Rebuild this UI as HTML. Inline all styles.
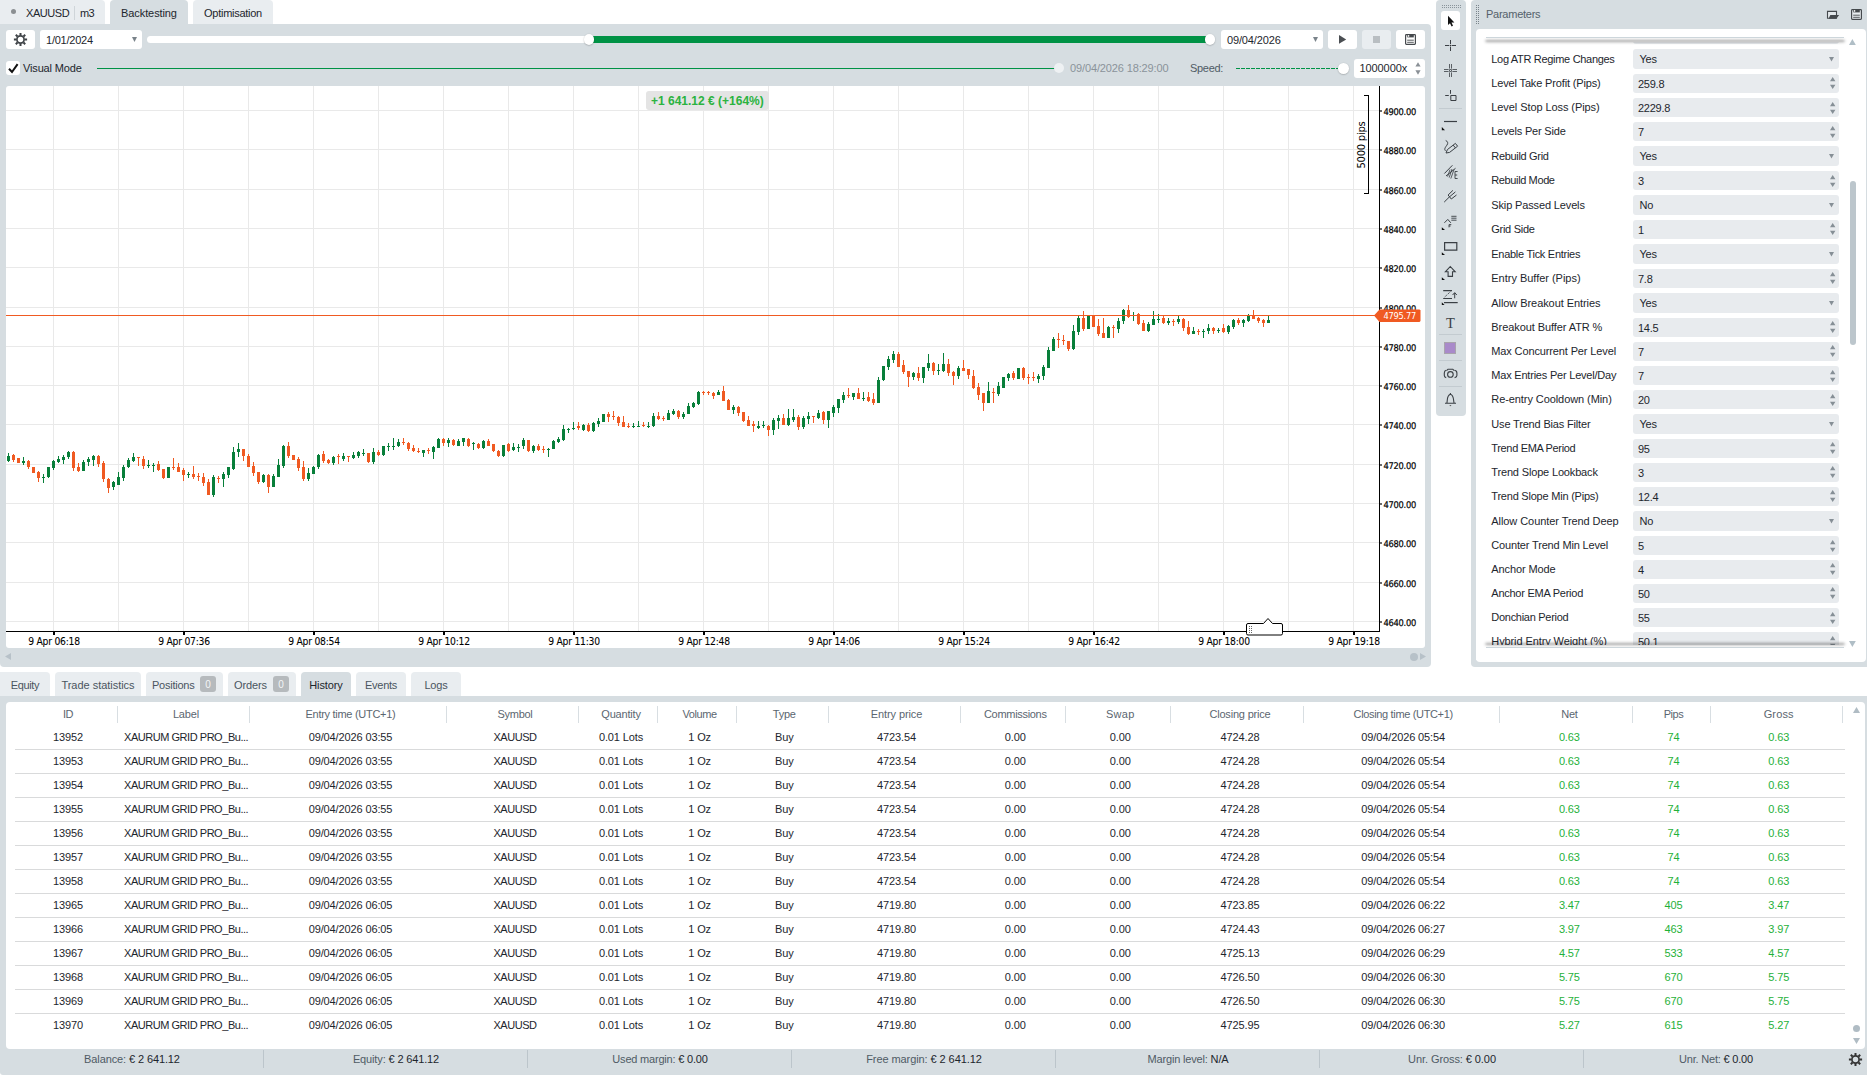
<!DOCTYPE html>
<html lang="en"><head><meta charset="utf-8"><title>Backtesting</title>
<style>
*{box-sizing:border-box;margin:0;padding:0}
html,body{width:1867px;height:1075px;overflow:hidden;background:#fff}
body{position:relative;font-family:"Liberation Sans",Arial,sans-serif;font-size:11px;letter-spacing:-.25px;color:#1d262d;line-height:14px}
.a{position:absolute}
.t{position:absolute;white-space:nowrap;line-height:14px;height:14px}
.pn{background:#d6dde1}
.tab{position:absolute;background:#e9edf0;border-radius:4px 4px 0 0;color:#3f4a54;text-align:center}
.tab.on{background:#d6dde1;color:#1d262d}
.w{position:absolute;background:#fff;border-radius:3px}
.chart{position:absolute;left:6px;top:86px}
.th{position:absolute;border-radius:50%;background:#fff;box-shadow:0 .5px 1.5px rgba(0,0,0,.3)}
.in{position:absolute;background:#e8ebee;border-radius:3px;left:1633px;width:206px;height:19px}
.lb{position:absolute;left:1491px;white-space:nowrap;line-height:14px;height:14px;color:#1d262d}
.vl{position:absolute;left:1639px;white-space:nowrap;line-height:14px;height:14px;color:#1d262d}
.sep{position:absolute;background:#d8dee2;width:1px}
.hd{position:absolute;color:#5b6670;text-align:center;white-space:nowrap;line-height:14px;height:14px}
.c{position:absolute;text-align:center;white-space:nowrap;line-height:14px;height:14px;color:#1d262d;letter-spacing:-.12px}
.cap{letter-spacing:-.45px}
.gr{color:#1fb13a}
.rl{position:absolute;left:15px;width:1830px;height:1px;background:#d9dadb}
.st{position:absolute;top:1052px;width:264px;text-align:center;white-space:nowrap;line-height:14px;height:14px;color:#4f5b65}
.st b{font-weight:normal;color:#1d262d}
.ic{position:absolute;overflow:visible}
</style></head>
<body>
<div class="tab" style="left:0;top:0;width:105px;height:24px;border-radius:0 4px 0 0"></div>
<div class="a" style="left:11px;top:9px;width:5px;height:5px;border-radius:50%;background:#8b8f92"></div>
<div class="t" style="left:26px;top:6px;letter-spacing:-0.44px">XAUUSD</div>
<div class="a" style="left:74px;top:6px;width:1px;height:14px;background:#cfd5d9"></div>
<div class="t" style="left:80px;top:6px;letter-spacing:-0.60px">m3</div>
<div class="tab on" style="left:110px;top:0;width:78px;height:25px;padding-top:6px;letter-spacing:-0.10px">Backtesting</div>
<div class="tab" style="left:193px;top:0;width:80px;height:24px;padding-top:6px;color:#1d262d;letter-spacing:-0.27px">Optimisation</div>
<div class="a pn" style="left:0;top:24px;width:1431px;height:643px;border-radius:0 4px 4px 4px"></div>
<div class="w" style="left:6px;top:30px;width:29px;height:19px"></div>
<svg class="ic" style="left:13px;top:32px" width="15" height="15" viewBox="-7.5 -7.5 15 15"><g fill="none" stroke="#3f4347" stroke-width="1.7"><circle r="3.6"/><path d="M0-4.2V-6.6M0 4.2V6.6M-4.2 0H-6.6M4.2 0H6.6M-3-3L-4.7-4.7M3 3L4.7 4.7M-3 3L-4.7 4.7M3-3L4.7-4.7" stroke-width="2"/></g></svg>
<div class="w" style="left:40px;top:30px;width:102px;height:19px"></div>
<div class="t" style="left:46px;top:33px;letter-spacing:-0.23px">1/01/2024</div>
<svg class="ic" style="left:132px;top:37px" width="5" height="5"><path d="M0 0H5L2.5 5z" fill="#7a838a"/></svg>
<div class="a" style="left:147px;top:36px;width:1068px;height:7px;background:#fff;border-radius:4px"></div>
<div class="a" style="left:589px;top:36px;width:622px;height:7px;background:#009245"></div>
<div class="th" style="left:583.6px;top:34.4px;width:10.4px;height:10.4px"></div>
<div class="th" style="left:1205px;top:34.4px;width:10.4px;height:10.4px"></div>
<div class="w" style="left:1221px;top:30px;width:102px;height:19px"></div>
<div class="t" style="left:1227px;top:33px;letter-spacing:-0.14px">09/04/2026</div>
<svg class="ic" style="left:1313px;top:37px" width="5" height="5"><path d="M0 0H5L2.5 5z" fill="#7a838a"/></svg>
<div class="w" style="left:1328px;top:30px;width:29px;height:19px"></div>
<svg class="ic" style="left:1339px;top:35px" width="8" height="9"><path d="M0 0L7.2 4.4L0 8.8z" fill="#4a4e52"/></svg>
<div class="w" style="left:1362px;top:30px;width:29px;height:19px;background:#e9edf0"></div>
<div class="a" style="left:1373px;top:36px;width:7px;height:7px;background:#b9bec2"></div>
<div class="w" style="left:1396px;top:30px;width:29px;height:19px"></div>
<svg class="ic" style="left:1405px;top:34px" width="11" height="11" viewBox="0 0 11 11"><path d="M1.4 .6H9.6Q10.4 .6 10.4 1.4V9.6Q10.4 10.4 9.6 10.4H1.4Q.6 10.4 .6 9.6V1.4Q.6 .6 1.4 .6z" fill="#fff" stroke="#45494d" stroke-width="1.2"/><path d="M2.3 .6H8.8V3.4H2.3z" fill="#45494d"/><path d="M2.2 6.2H8.8M2.2 8.3H8.8" stroke="#45494d" stroke-width=".9"/><rect x="3.1" y="1" width="1.1" height="1.8" fill="#fff"/></svg>
<div class="w" style="left:6px;top:61px;width:14px;height:14px"></div>
<svg class="ic" style="left:8px;top:63px" width="11" height="11" viewBox="0 0 11 11"><path d="M1 5.8L4 9L9.6 1.2" fill="none" stroke="#111" stroke-width="2"/></svg>
<div class="t" style="left:23px;top:61px;letter-spacing:-0.15px">Visual Mode</div>
<div class="a" style="left:97px;top:67.75px;width:962px;height:1.5px;background:#009245"></div>
<div class="th" style="left:1054px;top:63px;width:10px;height:10px;background:#eef1f3;box-shadow:none"></div>
<div class="t" style="left:1070px;top:61px;color:#8a939a;letter-spacing:-0.13px">09/04/2026 18:29:00</div>
<div class="t" style="left:1190px;top:61px;color:#4f5b65;letter-spacing:-0.31px">Speed:</div>
<div class="a" style="left:1235px;top:67.8px;width:104px;height:1.4px;background:repeating-linear-gradient(90deg,transparent 0 1.3px,#009245 1.3px 5px)"></div>
<div class="th" style="left:1338px;top:63.2px;width:10.6px;height:10.6px"></div>
<div class="w" style="left:1354px;top:59px;width:71px;height:19px"></div>
<div class="t" style="left:1359.5px;top:61px;letter-spacing:-0.09px">1000000x</div>
<svg class="ic" style="left:1415px;top:62px" width="6" height="13"><path d="M.4 4.5H5.6L3 .3zM.4 8.3H5.6L3 12.8z" fill="#8a9096"/></svg>
<div class="w" style="left:6px;top:86px;width:1419px;height:562px;border-radius:3px"></div>
<svg class="chart" width="1419" height="562" viewBox="6 86 1419 562" shape-rendering="crispEdges">
<path d="M53.5 86V631 M118.5 86V631 M183.5 86V631 M248.5 86V631 M313.5 86V631 M378.5 86V631 M443.5 86V631 M508.5 86V631 M573.5 86V631 M638.5 86V631 M703.5 86V631 M768.5 86V631 M833.5 86V631 M898.5 86V631 M963.5 86V631 M1028.5 86V631 M1093.5 86V631 M1158.5 86V631 M1223.5 86V631 M1288.5 86V631 M1353.5 86V631 M6 110.5H1379 M6 149.5H1379 M6 189.5H1379 M6 228.5H1379 M6 267.5H1379 M6 307.5H1379 M6 346.5H1379 M6 385.5H1379 M6 424.5H1379 M6 464.5H1379 M6 503.5H1379 M6 542.5H1379 M6 582.5H1379 M6 621.5H1379" stroke="#e9e9e9" stroke-width="1" fill="none"/>
<path d="M7 456h3V461h-3zM22 461h3V463h-3zM42 477h3V478h-3zM47 467h3V477h-3zM52 461h3V468h-3zM57 459h3V462h-3zM62 457h3V460h-3zM67 452h3V457h-3zM82 462h3V471h-3zM87 459h3V462h-3zM92 456h3V460h-3zM112 482h3V487h-3zM117 477h3V485h-3zM122 467h3V478h-3zM127 460h3V467h-3zM132 457h3V461h-3zM147 465h3V466h-3zM152 465h3V466h-3zM167 467h3V478h-3zM187 474h3V475h-3zM212 477h3V495h-3zM222 474h3V479h-3zM227 467h3V475h-3zM232 452h3V469h-3zM237 449h3V452h-3zM262 475h3V482h-3zM272 476h3V487h-3zM277 465h3V477h-3zM282 446h3V466h-3zM307 473h3V479h-3zM312 467h3V474h-3zM317 455h3V467h-3zM332 457h3V463h-3zM342 456h3V459h-3zM352 455h3V458h-3zM357 452h3V456h-3zM362 453h3V454h-3zM372 452h3V462h-3zM382 446h3V455h-3zM387 446h3V447h-3zM392 446h3V447h-3zM397 442h3V446h-3zM422 450h3V453h-3zM432 447h3V452h-3zM437 439h3V448h-3zM447 440h3V443h-3zM457 441h3V446h-3zM462 438h3V442h-3zM472 443h3V444h-3zM482 441h3V448h-3zM502 445h3V456h-3zM512 447h3V450h-3zM517 447h3V448h-3zM522 440h3V446h-3zM532 446h3V451h-3zM547 449h3V450h-3zM552 441h3V449h-3zM557 439h3V442h-3zM562 429h3V440h-3zM567 429h3V430h-3zM572 428h3V429h-3zM582 425h3V430h-3zM592 423h3V431h-3zM597 421h3V424h-3zM602 414h3V422h-3zM632 426h3V427h-3zM637 426h3V427h-3zM647 426h3V427h-3zM652 416h3V426h-3zM667 413h3V420h-3zM672 411h3V414h-3zM682 414h3V417h-3zM687 406h3V414h-3zM692 403h3V407h-3zM697 392h3V404h-3zM717 392h3V395h-3zM732 407h3V410h-3zM757 426h3V428h-3zM762 425h3V426h-3zM772 420h3V430h-3zM777 418h3V421h-3zM787 418h3V425h-3zM792 417h3V420h-3zM802 418h3V427h-3zM807 416h3V419h-3zM817 413h3V418h-3zM827 411h3V420h-3zM832 407h3V413h-3zM837 399h3V408h-3zM842 395h3V400h-3zM852 393h3V397h-3zM862 398h3V399h-3zM877 380h3V403h-3zM882 366h3V380h-3zM887 359h3V367h-3zM892 354h3V360h-3zM912 373h3V377h-3zM922 367h3V378h-3zM927 363h3V368h-3zM937 370h3V371h-3zM942 364h3V371h-3zM957 368h3V376h-3zM987 391h3V403h-3zM997 386h3V394h-3zM1002 377h3V388h-3zM1007 374h3V378h-3zM1017 368h3V379h-3zM1037 376h3V379h-3zM1042 367h3V376h-3zM1047 350h3V368h-3zM1052 339h3V351h-3zM1072 331h3V349h-3zM1077 318h3V332h-3zM1087 316h3V329h-3zM1107 327h3V338h-3zM1117 321h3V329h-3zM1122 310h3V321h-3zM1132 315h3V316h-3zM1147 324h3V331h-3zM1152 319h3V325h-3zM1157 319h3V320h-3zM1167 321h3V323h-3zM1177 319h3V322h-3zM1192 331h3V334h-3zM1202 331h3V332h-3zM1207 328h3V331h-3zM1217 330h3V331h-3zM1227 326h3V332h-3zM1232 320h3V327h-3zM1242 320h3V323h-3zM1247 315h3V321h-3zM1267 320h3V323h-3zM8 453h1V462h-1zM23 457h1V465h-1zM43 474h1V483h-1zM48 467h1V478h-1zM53 460h1V470h-1zM58 456h1V463h-1zM63 455h1V464h-1zM68 451h1V459h-1zM83 460h1V471h-1zM88 457h1V466h-1zM93 455h1V466h-1zM113 481h1V490h-1zM118 472h1V485h-1zM123 465h1V481h-1zM128 458h1V468h-1zM133 453h1V462h-1zM148 460h1V468h-1zM153 463h1V472h-1zM168 467h1V478h-1zM188 472h1V478h-1zM213 475h1V497h-1zM223 472h1V487h-1zM228 467h1V478h-1zM233 447h1V470h-1zM238 443h1V457h-1zM263 474h1V483h-1zM273 474h1V487h-1zM278 459h1V477h-1zM283 445h1V468h-1zM308 468h1V481h-1zM313 466h1V474h-1zM318 454h1V469h-1zM333 456h1V465h-1zM343 453h1V461h-1zM353 452h1V459h-1zM358 451h1V458h-1zM363 449h1V456h-1zM373 448h1V464h-1zM383 446h1V456h-1zM388 443h1V451h-1zM393 438h1V450h-1zM398 439h1V447h-1zM423 450h1V457h-1zM433 446h1V459h-1zM438 438h1V448h-1zM448 438h1V447h-1zM458 439h1V446h-1zM463 438h1V446h-1zM473 442h1V450h-1zM483 440h1V449h-1zM503 445h1V457h-1zM513 443h1V451h-1zM518 444h1V452h-1zM523 438h1V449h-1zM533 445h1V453h-1zM548 448h1V457h-1zM553 440h1V449h-1zM558 437h1V443h-1zM563 425h1V441h-1zM568 428h1V433h-1zM573 422h1V430h-1zM583 424h1V431h-1zM593 422h1V432h-1zM598 418h1V427h-1zM603 414h1V422h-1zM633 423h1V428h-1zM638 421h1V427h-1zM648 422h1V428h-1zM653 413h1V427h-1zM668 410h1V420h-1zM673 409h1V415h-1zM683 412h1V419h-1zM688 403h1V414h-1zM693 402h1V408h-1zM698 391h1V405h-1zM718 390h1V395h-1zM733 405h1V414h-1zM758 421h1V429h-1zM763 421h1V428h-1zM773 418h1V435h-1zM778 415h1V429h-1zM788 409h1V426h-1zM793 409h1V422h-1zM803 416h1V429h-1zM808 412h1V424h-1zM818 410h1V419h-1zM828 411h1V428h-1zM833 405h1V417h-1zM838 399h1V413h-1zM843 392h1V403h-1zM853 393h1V400h-1zM863 392h1V401h-1zM878 377h1V403h-1zM883 366h1V381h-1zM888 356h1V370h-1zM893 351h1V363h-1zM913 372h1V380h-1zM923 367h1V383h-1zM928 354h1V371h-1zM938 364h1V375h-1zM943 353h1V372h-1zM958 366h1V379h-1zM988 382h1V403h-1zM998 382h1V396h-1zM1003 377h1V388h-1zM1008 373h1V381h-1zM1018 368h1V379h-1zM1038 374h1V383h-1zM1043 365h1V380h-1zM1048 347h1V368h-1zM1053 337h1V351h-1zM1073 325h1V350h-1zM1078 316h1V335h-1zM1088 316h1V329h-1zM1108 326h1V338h-1zM1118 318h1V333h-1zM1123 309h1V324h-1zM1133 312h1V321h-1zM1148 322h1V332h-1zM1153 311h1V325h-1zM1158 314h1V323h-1zM1168 318h1V325h-1zM1178 316h1V324h-1zM1193 327h1V334h-1zM1203 329h1V338h-1zM1208 324h1V334h-1zM1218 328h1V333h-1zM1228 325h1V334h-1zM1233 319h1V329h-1zM1243 319h1V327h-1zM1248 314h1V322h-1zM1268 315h1V323h-1z" fill="#087f3a"/>
<path d="M12 455h3V460h-3zM17 458h3V463h-3zM27 461h3V467h-3zM32 467h3V473h-3zM37 472h3V478h-3zM72 452h3V468h-3zM77 467h3V471h-3zM97 456h3V464h-3zM102 463h3V479h-3zM107 479h3V488h-3zM137 457h3V458h-3zM142 459h3V466h-3zM157 464h3V470h-3zM162 469h3V478h-3zM172 467h3V468h-3zM177 467h3V472h-3zM182 470h3V475h-3zM192 474h3V477h-3zM197 476h3V477h-3zM202 477h3V483h-3zM207 482h3V495h-3zM217 478h3V479h-3zM242 449h3V456h-3zM247 456h3V467h-3zM252 466h3V473h-3zM257 472h3V482h-3zM267 475h3V487h-3zM287 446h3V456h-3zM292 455h3V460h-3zM297 459h3V468h-3zM302 467h3V479h-3zM322 454h3V461h-3zM327 460h3V463h-3zM337 456h3V457h-3zM347 456h3V457h-3zM367 453h3V462h-3zM377 452h3V455h-3zM402 442h3V443h-3zM407 443h3V449h-3zM412 448h3V451h-3zM417 451h3V452h-3zM427 450h3V451h-3zM442 439h3V443h-3zM452 440h3V445h-3zM467 439h3V446h-3zM477 444h3V448h-3zM487 441h3V446h-3zM492 444h3V451h-3zM497 451h3V456h-3zM507 444h3V451h-3zM527 440h3V451h-3zM537 446h3V450h-3zM542 449h3V450h-3zM577 426h3V428h-3zM587 425h3V431h-3zM607 414h3V417h-3zM612 416h3V417h-3zM617 417h3V423h-3zM622 422h3V427h-3zM627 426h3V427h-3zM642 425h3V426h-3zM657 416h3V419h-3zM662 418h3V419h-3zM677 411h3V417h-3zM702 392h3V393h-3zM707 392h3V393h-3zM712 393h3V396h-3zM722 391h3V401h-3zM727 400h3V410h-3zM737 407h3V413h-3zM742 412h3V421h-3zM747 420h3V426h-3zM752 424h3V426h-3zM767 426h3V430h-3zM782 418h3V425h-3zM797 417h3V427h-3zM812 416h3V417h-3zM822 412h3V420h-3zM847 395h3V396h-3zM857 393h3V399h-3zM867 397h3V401h-3zM872 399h3V403h-3zM897 354h3V367h-3zM902 365h3V372h-3zM907 371h3V377h-3zM917 373h3V378h-3zM932 363h3V371h-3zM947 364h3V373h-3zM952 372h3V376h-3zM962 368h3V371h-3zM967 369h3V375h-3zM972 376h3V388h-3zM977 387h3V395h-3zM982 393h3V403h-3zM992 392h3V393h-3zM1012 373h3V378h-3zM1022 368h3V378h-3zM1027 377h3V378h-3zM1032 377h3V378h-3zM1057 339h3V340h-3zM1062 340h3V341h-3zM1067 341h3V349h-3zM1082 318h3V329h-3zM1092 316h3V327h-3zM1097 326h3V334h-3zM1102 333h3V338h-3zM1112 327h3V328h-3zM1127 310h3V317h-3zM1137 314h3V324h-3zM1142 323h3V331h-3zM1162 318h3V323h-3zM1172 321h3V322h-3zM1182 319h3V328h-3zM1187 327h3V334h-3zM1197 331h3V332h-3zM1212 328h3V331h-3zM1222 328h3V332h-3zM1237 320h3V323h-3zM1252 315h3V319h-3zM1257 318h3V321h-3zM1262 320h3V323h-3zM13 454h1V462h-1zM18 458h1V463h-1zM28 460h1V469h-1zM33 467h1V473h-1zM38 471h1V482h-1zM73 451h1V471h-1zM78 463h1V472h-1zM98 455h1V467h-1zM103 461h1V482h-1zM108 478h1V493h-1zM138 457h1V466h-1zM143 456h1V469h-1zM158 461h1V471h-1zM163 469h1V479h-1zM173 458h1V470h-1zM178 463h1V472h-1zM183 468h1V481h-1zM193 466h1V479h-1zM198 473h1V481h-1zM203 473h1V486h-1zM208 479h1V495h-1zM218 476h1V483h-1zM243 449h1V461h-1zM248 454h1V467h-1zM253 462h1V476h-1zM258 472h1V484h-1zM268 474h1V493h-1zM288 442h1V458h-1zM293 455h1V460h-1zM298 457h1V471h-1zM303 461h1V481h-1zM323 451h1V463h-1zM328 459h1V464h-1zM338 454h1V464h-1zM348 456h1V462h-1zM368 453h1V463h-1zM378 450h1V456h-1zM403 438h1V445h-1zM408 442h1V451h-1zM413 445h1V452h-1zM418 448h1V453h-1zM428 448h1V454h-1zM443 438h1V446h-1zM453 439h1V446h-1zM468 438h1V447h-1zM478 443h1V449h-1zM488 439h1V446h-1zM493 444h1V452h-1zM498 450h1V457h-1zM508 443h1V452h-1zM528 440h1V452h-1zM538 444h1V451h-1zM543 446h1V453h-1zM578 422h1V430h-1zM588 423h1V432h-1zM608 412h1V422h-1zM613 411h1V420h-1zM618 416h1V426h-1zM623 416h1V427h-1zM628 423h1V428h-1zM643 422h1V427h-1zM658 412h1V420h-1zM663 416h1V421h-1zM678 410h1V419h-1zM703 391h1V395h-1zM708 391h1V395h-1zM713 392h1V399h-1zM723 386h1V401h-1zM728 399h1V410h-1zM738 406h1V416h-1zM743 412h1V422h-1zM748 416h1V426h-1zM753 421h1V432h-1zM768 425h1V436h-1zM783 414h1V425h-1zM798 415h1V430h-1zM813 416h1V423h-1zM823 411h1V424h-1zM848 388h1V398h-1zM858 388h1V399h-1zM868 392h1V402h-1zM873 393h1V405h-1zM898 352h1V367h-1zM903 360h1V374h-1zM908 371h1V387h-1zM918 367h1V381h-1zM933 362h1V375h-1zM948 359h1V376h-1zM953 371h1V385h-1zM963 360h1V371h-1zM968 369h1V379h-1zM973 370h1V389h-1zM978 383h1V400h-1zM983 393h1V411h-1zM993 388h1V403h-1zM1013 371h1V380h-1zM1023 367h1V380h-1zM1028 374h1V384h-1zM1033 372h1V381h-1zM1058 333h1V348h-1zM1063 335h1V345h-1zM1068 341h1V351h-1zM1083 311h1V331h-1zM1093 316h1V327h-1zM1098 319h1V336h-1zM1103 318h1V338h-1zM1113 325h1V338h-1zM1128 305h1V318h-1zM1138 313h1V325h-1zM1143 320h1V331h-1zM1163 316h1V324h-1zM1173 319h1V326h-1zM1183 318h1V331h-1zM1188 321h1V335h-1zM1198 329h1V335h-1zM1213 327h1V334h-1zM1223 324h1V333h-1zM1238 318h1V325h-1zM1253 310h1V319h-1zM1258 317h1V323h-1zM1263 319h1V327h-1z" fill="#f05a22"/>
<path d="M6 315.5H1376" stroke="#f05a22" stroke-width="1"/>
<path d="M1379.5 86V632M6 631.5H1380" stroke="#000" stroke-width="1.4" fill="none"/>
<path d="M53 631h2v4h-2zM183 631h2v4h-2zM313 631h2v4h-2zM443 631h2v4h-2zM573 631h2v4h-2zM703 631h2v4h-2zM833 631h2v4h-2zM963 631h2v4h-2zM1093 631h2v4h-2zM1223 631h2v4h-2zM1353 631h2v4h-2z" fill="#000"/>
<path d="M1380 110h2v2h-2zM1380 149h2v2h-2zM1380 189h2v2h-2zM1380 228h2v2h-2zM1380 267h2v2h-2zM1380 307h2v2h-2zM1380 346h2v2h-2zM1380 385h2v2h-2zM1380 424h2v2h-2zM1380 464h2v2h-2zM1380 503h2v2h-2zM1380 542h2v2h-2zM1380 582h2v2h-2zM1380 621h2v2h-2z" fill="#6a6a6a"/>
<g font-family="'DejaVu Sans Condensed','Liberation Sans',sans-serif" font-size="9.2" fill="#000" stroke="#000" stroke-width=".2" shape-rendering="auto" text-rendering="geometricPrecision">
<text x="1383.5" y="115.0" textLength="32.5" lengthAdjust="spacingAndGlyphs">4900.00</text>
<text x="1383.5" y="154.0" textLength="32.5" lengthAdjust="spacingAndGlyphs">4880.00</text>
<text x="1383.5" y="194.0" textLength="32.5" lengthAdjust="spacingAndGlyphs">4860.00</text>
<text x="1383.5" y="233.0" textLength="32.5" lengthAdjust="spacingAndGlyphs">4840.00</text>
<text x="1383.5" y="272.0" textLength="32.5" lengthAdjust="spacingAndGlyphs">4820.00</text>
<text x="1383.5" y="312.0" textLength="32.5" lengthAdjust="spacingAndGlyphs">4800.00</text>
<text x="1383.5" y="351.0" textLength="32.5" lengthAdjust="spacingAndGlyphs">4780.00</text>
<text x="1383.5" y="390.0" textLength="32.5" lengthAdjust="spacingAndGlyphs">4760.00</text>
<text x="1383.5" y="429.0" textLength="32.5" lengthAdjust="spacingAndGlyphs">4740.00</text>
<text x="1383.5" y="469.0" textLength="32.5" lengthAdjust="spacingAndGlyphs">4720.00</text>
<text x="1383.5" y="508.0" textLength="32.5" lengthAdjust="spacingAndGlyphs">4700.00</text>
<text x="1383.5" y="547.0" textLength="32.5" lengthAdjust="spacingAndGlyphs">4680.00</text>
<text x="1383.5" y="587.0" textLength="32.5" lengthAdjust="spacingAndGlyphs">4660.00</text>
<text x="1383.5" y="626.0" textLength="32.5" lengthAdjust="spacingAndGlyphs">4640.00</text>
</g>
<g font-family="'DejaVu Sans Condensed','Liberation Sans',sans-serif" font-size="10" fill="#000" stroke="#000" stroke-width=".08" text-anchor="middle" shape-rendering="auto">
<text x="54" y="644.6" textLength="51.5" lengthAdjust="spacingAndGlyphs">9 Apr 06:18</text>
<text x="184" y="644.6" textLength="51.5" lengthAdjust="spacingAndGlyphs">9 Apr 07:36</text>
<text x="314" y="644.6" textLength="51.5" lengthAdjust="spacingAndGlyphs">9 Apr 08:54</text>
<text x="444" y="644.6" textLength="51.5" lengthAdjust="spacingAndGlyphs">9 Apr 10:12</text>
<text x="574" y="644.6" textLength="51.5" lengthAdjust="spacingAndGlyphs">9 Apr 11:30</text>
<text x="704" y="644.6" textLength="51.5" lengthAdjust="spacingAndGlyphs">9 Apr 12:48</text>
<text x="834" y="644.6" textLength="51.5" lengthAdjust="spacingAndGlyphs">9 Apr 14:06</text>
<text x="964" y="644.6" textLength="51.5" lengthAdjust="spacingAndGlyphs">9 Apr 15:24</text>
<text x="1094" y="644.6" textLength="51.5" lengthAdjust="spacingAndGlyphs">9 Apr 16:42</text>
<text x="1224" y="644.6" textLength="51.5" lengthAdjust="spacingAndGlyphs">9 Apr 18:00</text>
<text x="1354" y="644.6" textLength="51.5" lengthAdjust="spacingAndGlyphs">9 Apr 19:18</text>
</g>
<path d="M1364 95.5H1368.5V193.5H1364" stroke="#000" stroke-width="1" fill="none"/>
<text transform="translate(1364.6 145) rotate(-90)" text-anchor="middle" font-family="'DejaVu Sans Condensed','Liberation Sans',sans-serif" font-size="10" fill="#000" shape-rendering="auto" textLength="47" lengthAdjust="spacingAndGlyphs">5000 pips</text>
<path d="M1374 315.5L1379.5 309.5H1419.5L1420.5 310.5V321L1419.5 322H1379.5z" fill="#f05a22" shape-rendering="auto"/>
<text x="1383.5" y="318.6" font-family="'DejaVu Sans Condensed','Liberation Sans',sans-serif" font-size="9.2" fill="#fff" shape-rendering="auto" textLength="32.5" lengthAdjust="spacingAndGlyphs">4795.77</text>
<path d="M1248 623.5H1263.5L1268 618.5L1272.5 623.5H1281Q1282.5 623.5 1282.5 625V633.5Q1282.5 635 1281 635H1248Q1246.5 635 1246.5 633.5V625Q1246.5 623.5 1248 623.5z" fill="#fff" stroke="#000" stroke-width="1" shape-rendering="auto"/>
<path d="M1249 626h1v1h-1zM1249 628h1v1h-1zM1249 630h1v1h-1zM1249 632h1v1h-1zM1251 626h1v1h-1zM1251 628h1v1h-1zM1251 630h1v1h-1zM1251 632h1v1h-1z" fill="#666"/>
</svg>
<div class="a" style="left:646px;top:91px;width:122.5px;height:19px;border-radius:3px;background:#e4e4e4"></div>
<div class="t" style="left:651px;top:94px;font-weight:bold;font-size:12px;color:#2bb33f;letter-spacing:0">+1 641.12 € (+164%)</div>
<svg class="ic" style="left:5px;top:653px" width="7" height="7"><path d="M6 0V7L0 3.5z" fill="#b7c1c8"/></svg>
<div class="a" style="left:1410px;top:653px;width:8px;height:8px;border-radius:50%;background:#b7c1c8"></div>
<svg class="ic" style="left:1420px;top:653px" width="7" height="7"><path d="M0 0V7L6 3.5z" fill="#b7c1c8"/></svg>
<div class="a pn" style="left:1436px;top:0;width:30px;height:416px;border-radius:4px"></div>
<svg class="ic" style="left:1442px;top:5px" width="20" height="3" shape-rendering="crispEdges"><path d="M0 0h1v1h-1zM0 2h1v1h-1zM2 0h1v1h-1zM2 2h1v1h-1zM4 0h1v1h-1zM4 2h1v1h-1zM6 0h1v1h-1zM6 2h1v1h-1zM8 0h1v1h-1zM8 2h1v1h-1zM10 0h1v1h-1zM10 2h1v1h-1zM12 0h1v1h-1zM12 2h1v1h-1zM14 0h1v1h-1zM14 2h1v1h-1zM16 0h1v1h-1zM16 2h1v1h-1zM18 0h1v1h-1zM18 2h1v1h-1z" fill="#8a949b"/></svg>
<div class="w" style="left:1441px;top:11px;width:19px;height:19px"></div>
<svg class="ic" style="left:1436px;top:0" width="30" height="416" viewBox="1436 0 30 416" fill="none" stroke="#3a3f44" stroke-width="1">
<path d="M1448 15.7V25L1450 23.2L1451.6 26.4L1453 25.7L1451.5 22.6H1454.4z" fill="#111" stroke="none"/>
<path d="M1450.5 40V44.2M1450.5 46.6V51M1445 45.5H1449.3M1451.6 45.5H1456"/><path d="M1450 45h1v1h-1z" fill="#333" stroke="none"/>
<path d="M1449.5 64V77M1451.5 64V77M1444 69.5H1457M1444 71.5H1457" stroke-width=".8" stroke-dasharray="4.6 1 1.8 1 4.6"/>
<path d="M1450.5 90V93.8M1445.2 95.5H1448.8M1450.8 95.5H1456V100.5H1450.8z"/>
<path d="M1439 108.5H1462" stroke="#c3cbd0"/>
<path d="M1444 121.5H1457" stroke-width="1.2"/><path d="M1441.8 127V130.2H1445z" fill="#111" stroke="none"/>
<path d="M1445.7 140.5C1447.6 141.3 1448.4 143 1447 145C1445.6 147 1443.6 149.3 1445.7 150.9" /><path d="M1446 153L1447.4 149.6L1455.4 143.4L1457.6 146.2L1449.6 152.4zM1453.2 145.1L1455.4 147.9" stroke-linejoin="round"/>
<path d="M1444.4 173.5L1452.4 165.3M1446 176L1455.5 168.3" /><path d="M1447.6 176.6L1450 169.6M1449.2 177.6L1452 169M1450.8 178.6L1454 169.6" stroke-width=".8"/><path d="M1455 171.5V178.5M1455 171.5H1457.6M1455 175H1457.2M1455 178.5H1457.6" stroke-width=".9"/>
<path d="M1444.2 202.1L1449.3 197M1448.1 195L1451.3 199M1448.1 195L1452.9 190.4M1449.3 197L1455.4 191.9M1451.3 199L1456.5 195"/>
<path d="M1444.4 222.8L1447.8 219.4L1450.8 222.8"/><path d="M1451.3 216.3H1456.5M1451.3 218.2H1456.5M1451.3 220.2H1456.5" stroke-width=".9"/><path d="M1449 227.4V224.6H1451.3M1449 226H1450.6" stroke-width=".9"/><path d="M1441.8 227.2V230H1445z" fill="#111" stroke="none"/>
<path d="M1444.6 242.7H1456.8V250.2H1444.6z" stroke-width="1.2"/><path d="M1441.8 252.3V255H1445z" fill="#111" stroke="none"/>
<path d="M1450.3 266.5L1455.2 271.8H1452.5V276.4H1448.1V271.8H1445.4z" stroke-width="1.1"/><path d="M1441.8 277.3V280H1445z" fill="#111" stroke="none"/>
<path d="M1443.2 290.6H1452M1443.2 298.5H1452" stroke-width="1.1"/><path d="M1444.7 297L1450.3 291.8" stroke-dasharray="1.2 1"/><path d="M1454.7 293V298.3M1452.6 295L1454.7 292.6L1456.8 295" /><path d="M1444 302.6H1457.7" stroke-width="1.2"/><path d="M1441.8 302.2V305H1444.6z" fill="#111" stroke="none"/>
<path d="M1439 334.5H1462M1439 360.5H1462M1439 386.5H1462" stroke="#c3cbd0"/>
<path d="M1446.2 370.3Q1444.3 370.8 1444.3 373V375.5Q1444.3 377.3 1446.2 377.6M1454.6 370.3Q1456.9 370.8 1456.9 373V375.5Q1456.9 377.3 1454.6 377.6M1446.6 370.6L1448 369.2H1452.8L1454.2 370.6" stroke-width="1.1"/><circle cx="1450.4" cy="374.4" r="2.8" stroke-width="1.1"/>
<path d="M1445 403.3H1456M1446.8 403.3C1447.8 400.5 1446.3 395.5 1450.4 394.2C1454.5 395.5 1453 400.5 1454.2 403.3M1450.4 393V394.2" stroke-width="1.1"/><path d="M1449.3 405.2H1451.5L1450.4 406.3z" fill="#333" stroke="none"/>
</svg>
<div class="t" style="left:1443px;top:313px;width:15px;text-align:center;letter-spacing:0;font-family:'Liberation Serif',serif;font-size:14.5px;line-height:20px;height:20px;color:#3d4247">T</div>
<div class="a" style="left:1444px;top:342px;width:12px;height:12px;background:#a98aca;border:1px solid #a9a3ad"></div>
<div class="a pn" style="left:1471px;top:0;width:396px;height:667px;border-radius:4px 0 0 4px"></div>
<svg class="ic" style="left:1476px;top:5px" width="3" height="20" shape-rendering="crispEdges"><path d="M0 0h1v1h-1zM2 0h1v1h-1zM0 2h1v1h-1zM2 2h1v1h-1zM0 4h1v1h-1zM2 4h1v1h-1zM0 6h1v1h-1zM2 6h1v1h-1zM0 8h1v1h-1zM2 8h1v1h-1zM0 10h1v1h-1zM2 10h1v1h-1zM0 12h1v1h-1zM2 12h1v1h-1zM0 14h1v1h-1zM2 14h1v1h-1zM0 16h1v1h-1zM2 16h1v1h-1zM0 18h1v1h-1zM2 18h1v1h-1z" fill="#7a848b"/></svg>
<div class="t" style="left:1486px;top:7px;color:#55616b;letter-spacing:-0.25px">Parameters</div>
<svg class="ic" style="left:1826px;top:9px" width="15" height="12" viewBox="1826 9 15 12"><path d="M1827.5 11.4H1836.5V18.3H1827.5z" fill="#e3e8eb" stroke="#45494d" stroke-width="1.1"/><path d="M1828.6 18.8L1830.3 15.1H1839.2L1836.2 18.8z" fill="#45494d"/></svg>
<svg class="ic" style="left:1851px;top:9.1px" width="11" height="11" viewBox="0 0 11 11"><path d="M1.4 .6H9.6Q10.4 .6 10.4 1.4V9.6Q10.4 10.4 9.6 10.4H1.4Q.6 10.4 .6 9.6V1.4Q.6 .6 1.4 .6z" fill="#e9edf0" stroke="#45494d" stroke-width="1.2"/><path d="M2.3 .6H8.8V3.4H2.3z" fill="#45494d"/><path d="M2.2 6.2H8.8M2.2 8.3H8.8" stroke="#45494d" stroke-width=".9"/><rect x="3.1" y="1" width="1.1" height="1.8" fill="#fff"/></svg>
<div class="w" style="left:1476px;top:29px;width:390px;height:633px;border-radius:4px"></div>
<div class="a" style="left:1485px;top:41.5px;width:360px;height:603px;overflow:hidden">
<div class="in" style="left:148px;top:-16.50px;height:19px"></div>
<div class="in" style="left:148px;top:7.70px;height:19.5px"></div>
<div class="lb" style="left:6.3px;top:10.5px;letter-spacing:-0.31px">Log ATR Regime Changes</div>
<div class="vl" style="left:154.5px;top:10.5px">Yes</div>
<svg class="ic" style="left:344px;top:15.45px" width="5" height="5"><path d="M0 0H5L2.5 4.6z" fill="#868f96"/></svg>
<div class="in" style="left:148px;top:32.40px;height:19px"></div>
<div class="lb" style="left:6.3px;top:34.5px;letter-spacing:-0.15px">Level Take Profit (Pips)</div>
<div class="vl" style="left:153px;top:35.5px">259.8</div>
<svg class="ic" style="left:344.5px;top:35.90px" width="6" height="13"><path d="M0 4.3H5.4L2.7 0zM0 7.8H5.4L2.7 12.1z" fill="#868f96"/></svg>
<div class="in" style="left:148px;top:56.50px;height:19px"></div>
<div class="lb" style="left:6.3px;top:58.5px;letter-spacing:-0.08px">Level Stop Loss (Pips)</div>
<div class="vl" style="left:153px;top:59.5px">2229.8</div>
<svg class="ic" style="left:344.5px;top:60.00px" width="6" height="13"><path d="M0 4.3H5.4L2.7 0zM0 7.8H5.4L2.7 12.1z" fill="#868f96"/></svg>
<div class="in" style="left:148px;top:80.70px;height:19px"></div>
<div class="lb" style="left:6.3px;top:82.5px;letter-spacing:-0.18px">Levels Per Side</div>
<div class="vl" style="left:153px;top:83.5px">7</div>
<svg class="ic" style="left:344.5px;top:84.20px" width="6" height="13"><path d="M0 4.3H5.4L2.7 0zM0 7.8H5.4L2.7 12.1z" fill="#868f96"/></svg>
<div class="in" style="left:148px;top:104.90px;height:19.5px"></div>
<div class="lb" style="left:6.3px;top:107.5px;letter-spacing:-0.32px">Rebuild Grid</div>
<div class="vl" style="left:154.5px;top:107.5px">Yes</div>
<svg class="ic" style="left:344px;top:112.65px" width="5" height="5"><path d="M0 0H5L2.5 4.6z" fill="#868f96"/></svg>
<div class="in" style="left:148px;top:129.60px;height:19px"></div>
<div class="lb" style="left:6.3px;top:131.5px;letter-spacing:-0.38px">Rebuild Mode</div>
<div class="vl" style="left:153px;top:132.5px">3</div>
<svg class="ic" style="left:344.5px;top:133.10px" width="6" height="13"><path d="M0 4.3H5.4L2.7 0zM0 7.8H5.4L2.7 12.1z" fill="#868f96"/></svg>
<div class="in" style="left:148px;top:153.75px;height:19.5px"></div>
<div class="lb" style="left:6.3px;top:156.5px;letter-spacing:-0.14px">Skip Passed Levels</div>
<div class="vl" style="left:154.5px;top:156.5px">No</div>
<svg class="ic" style="left:344px;top:161.50px" width="5" height="5"><path d="M0 0H5L2.5 4.6z" fill="#868f96"/></svg>
<div class="in" style="left:148px;top:178.40px;height:19px"></div>
<div class="lb" style="left:6.3px;top:180.5px;letter-spacing:-0.28px">Grid Side</div>
<div class="vl" style="left:153px;top:181.5px">1</div>
<svg class="ic" style="left:344.5px;top:181.90px" width="6" height="13"><path d="M0 4.3H5.4L2.7 0zM0 7.8H5.4L2.7 12.1z" fill="#868f96"/></svg>
<div class="in" style="left:148px;top:202.70px;height:19.5px"></div>
<div class="lb" style="left:6.3px;top:205.5px;letter-spacing:-0.28px">Enable Tick Entries</div>
<div class="vl" style="left:154.5px;top:205.5px">Yes</div>
<svg class="ic" style="left:344px;top:210.45px" width="5" height="5"><path d="M0 0H5L2.5 4.6z" fill="#868f96"/></svg>
<div class="in" style="left:148px;top:227.40px;height:19px"></div>
<div class="lb" style="left:6.3px;top:229.5px;letter-spacing:-0.02px">Entry Buffer (Pips)</div>
<div class="vl" style="left:153px;top:230.5px">7.8</div>
<svg class="ic" style="left:344.5px;top:230.90px" width="6" height="13"><path d="M0 4.3H5.4L2.7 0zM0 7.8H5.4L2.7 12.1z" fill="#868f96"/></svg>
<div class="in" style="left:148px;top:251.55px;height:19.5px"></div>
<div class="lb" style="left:6.3px;top:254.5px;letter-spacing:-0.07px">Allow Breakout Entries</div>
<div class="vl" style="left:154.5px;top:254.5px">Yes</div>
<svg class="ic" style="left:344px;top:259.30px" width="5" height="5"><path d="M0 0H5L2.5 4.6z" fill="#868f96"/></svg>
<div class="in" style="left:148px;top:276.25px;height:19px"></div>
<div class="lb" style="left:6.3px;top:278.5px;letter-spacing:-0.08px">Breakout Buffer ATR %</div>
<div class="vl" style="left:153px;top:279.5px">14.5</div>
<svg class="ic" style="left:344.5px;top:279.75px" width="6" height="13"><path d="M0 4.3H5.4L2.7 0zM0 7.8H5.4L2.7 12.1z" fill="#868f96"/></svg>
<div class="in" style="left:148px;top:300.45px;height:19px"></div>
<div class="lb" style="left:6.3px;top:302.5px;letter-spacing:-0.13px">Max Concurrent Per Level</div>
<div class="vl" style="left:153px;top:303.5px">7</div>
<svg class="ic" style="left:344.5px;top:303.95px" width="6" height="13"><path d="M0 4.3H5.4L2.7 0zM0 7.8H5.4L2.7 12.1z" fill="#868f96"/></svg>
<div class="in" style="left:148px;top:324.60px;height:19px"></div>
<div class="lb" style="left:6.3px;top:326.5px;letter-spacing:-0.21px">Max Entries Per Level/Day</div>
<div class="vl" style="left:153px;top:327.5px">7</div>
<svg class="ic" style="left:344.5px;top:328.10px" width="6" height="13"><path d="M0 4.3H5.4L2.7 0zM0 7.8H5.4L2.7 12.1z" fill="#868f96"/></svg>
<div class="in" style="left:148px;top:348.80px;height:19px"></div>
<div class="lb" style="left:6.3px;top:350.5px;letter-spacing:-0.08px">Re-entry Cooldown (Min)</div>
<div class="vl" style="left:153px;top:351.5px">20</div>
<svg class="ic" style="left:344.5px;top:352.30px" width="6" height="13"><path d="M0 4.3H5.4L2.7 0zM0 7.8H5.4L2.7 12.1z" fill="#868f96"/></svg>
<div class="in" style="left:148px;top:372.95px;height:19.5px"></div>
<div class="lb" style="left:6.3px;top:375.5px;letter-spacing:-0.17px">Use Trend Bias Filter</div>
<div class="vl" style="left:154.5px;top:375.5px">Yes</div>
<svg class="ic" style="left:344px;top:380.70px" width="5" height="5"><path d="M0 0H5L2.5 4.6z" fill="#868f96"/></svg>
<div class="in" style="left:148px;top:397.40px;height:19px"></div>
<div class="lb" style="left:6.3px;top:399.5px;letter-spacing:-0.34px">Trend EMA Period</div>
<div class="vl" style="left:153px;top:400.5px">95</div>
<svg class="ic" style="left:344.5px;top:400.90px" width="6" height="13"><path d="M0 4.3H5.4L2.7 0zM0 7.8H5.4L2.7 12.1z" fill="#868f96"/></svg>
<div class="in" style="left:148px;top:421.40px;height:19px"></div>
<div class="lb" style="left:6.3px;top:423.5px;letter-spacing:-0.16px">Trend Slope Lookback</div>
<div class="vl" style="left:153px;top:424.5px">3</div>
<svg class="ic" style="left:344.5px;top:424.90px" width="6" height="13"><path d="M0 4.3H5.4L2.7 0zM0 7.8H5.4L2.7 12.1z" fill="#868f96"/></svg>
<div class="in" style="left:148px;top:445.40px;height:19px"></div>
<div class="lb" style="left:6.3px;top:447.5px;letter-spacing:-0.22px">Trend Slope Min (Pips)</div>
<div class="vl" style="left:153px;top:448.5px">12.4</div>
<svg class="ic" style="left:344.5px;top:448.90px" width="6" height="13"><path d="M0 4.3H5.4L2.7 0zM0 7.8H5.4L2.7 12.1z" fill="#868f96"/></svg>
<div class="in" style="left:148px;top:469.75px;height:19.5px"></div>
<div class="lb" style="left:6.3px;top:472.5px;letter-spacing:-0.07px">Allow Counter Trend Deep</div>
<div class="vl" style="left:154.5px;top:472.5px">No</div>
<svg class="ic" style="left:344px;top:477.50px" width="5" height="5"><path d="M0 0H5L2.5 4.6z" fill="#868f96"/></svg>
<div class="in" style="left:148px;top:494.70px;height:19px"></div>
<div class="lb" style="left:6.3px;top:496.5px;letter-spacing:-0.16px">Counter Trend Min Level</div>
<div class="vl" style="left:153px;top:497.5px">5</div>
<svg class="ic" style="left:344.5px;top:498.20px" width="6" height="13"><path d="M0 4.3H5.4L2.7 0zM0 7.8H5.4L2.7 12.1z" fill="#868f96"/></svg>
<div class="in" style="left:148px;top:518.40px;height:19px"></div>
<div class="lb" style="left:6.3px;top:520.5px;letter-spacing:-0.11px">Anchor Mode</div>
<div class="vl" style="left:153px;top:521.5px">4</div>
<svg class="ic" style="left:344.5px;top:521.90px" width="6" height="13"><path d="M0 4.3H5.4L2.7 0zM0 7.8H5.4L2.7 12.1z" fill="#868f96"/></svg>
<div class="in" style="left:148px;top:542.30px;height:19px"></div>
<div class="lb" style="left:6.3px;top:544.5px;letter-spacing:-0.25px">Anchor EMA Period</div>
<div class="vl" style="left:153px;top:545.5px">50</div>
<svg class="ic" style="left:344.5px;top:545.80px" width="6" height="13"><path d="M0 4.3H5.4L2.7 0zM0 7.8H5.4L2.7 12.1z" fill="#868f96"/></svg>
<div class="in" style="left:148px;top:566.50px;height:19px"></div>
<div class="lb" style="left:6.3px;top:568.5px;letter-spacing:-0.28px">Donchian Period</div>
<div class="vl" style="left:153px;top:569.5px">55</div>
<svg class="ic" style="left:344.5px;top:570.00px" width="6" height="13"><path d="M0 4.3H5.4L2.7 0zM0 7.8H5.4L2.7 12.1z" fill="#868f96"/></svg>
<div class="in" style="left:148px;top:590.60px;height:19px"></div>
<div class="lb" style="left:6.3px;top:592.5px;letter-spacing:-0.10px">Hybrid Entry Weight (%)</div>
<div class="vl" style="left:153px;top:593.5px">50.1</div>
<svg class="ic" style="left:344.5px;top:594.10px" width="6" height="13"><path d="M0 4.3H5.4L2.7 0zM0 7.8H5.4L2.7 12.1z" fill="#868f96"/></svg>
</div>
<div class="a" style="left:1476px;top:29px;width:376px;height:30px;overflow:hidden"><div class="a" style="left:10px;top:8px;width:358px;height:1px;background:#cdd6db;box-shadow:0 3.5px 3px .5px rgba(0,0,0,.42)"></div></div>
<div class="a" style="left:1476px;top:625px;width:376px;height:23px;overflow:hidden"><div class="a" style="left:10px;top:22px;width:358px;height:1px;background:#cdd6db;box-shadow:0 -3.5px 3px .5px rgba(0,0,0,.42)"></div></div>
<div class="a" style="left:1476px;top:648px;width:376px;height:12px;background:#fff"></div>
<svg class="ic" style="left:1849px;top:39px" width="7" height="6"><path d="M0 5.9H6.8L3.4 0z" fill="#b0bec6"/></svg>
<div class="a" style="left:1850px;top:181px;width:6px;height:164px;border-radius:3px;background:#bcc6cc"></div>
<svg class="ic" style="left:1849px;top:641px" width="7" height="6"><path d="M0 0H6.8L3.4 5.9z" fill="#b0bec6"/></svg>
<div class="tab" style="left:0px;top:672px;width:50px;height:24px;padding-top:6px;border-radius:0 4px 0 0;color:#4a555f;letter-spacing:-0.35px">Equity</div>
<div class="tab" style="left:55px;top:672px;width:86px;height:24px;padding-top:6px;border-radius:4px 4px 0 0;color:#4a555f;letter-spacing:-0.03px">Trade statistics</div>
<div class="tab" style="left:146px;top:672px;width:77px;height:24px;border-radius:4px 4px 0 0"></div>
<div class="t" style="left:152px;top:678px;color:#4a555f;letter-spacing:-0.25px">Positions</div>
<div class="a" style="left:200px;top:676px;width:16px;height:16px;border-radius:3px;background:#b6babd;color:#f4f5f6;text-align:center;font-size:10px;line-height:18px;letter-spacing:0">0</div>
<div class="tab" style="left:228px;top:672px;width:68px;height:24px;border-radius:4px 4px 0 0"></div>
<div class="t" style="left:234px;top:678px;color:#4a555f;letter-spacing:-0.10px">Orders</div>
<div class="a" style="left:273px;top:676px;width:16px;height:16px;border-radius:3px;background:#b6babd;color:#f4f5f6;text-align:center;font-size:10px;line-height:18px;letter-spacing:0">0</div>
<div class="tab on" style="left:301px;top:672px;width:50px;height:25px;padding-top:6px;border-radius:4px 4px 0 0;;letter-spacing:-0.12px">History</div>
<div class="tab" style="left:356px;top:672px;width:50px;height:24px;padding-top:6px;border-radius:4px 4px 0 0;color:#4a555f;letter-spacing:-0.24px">Events</div>
<div class="tab" style="left:411px;top:672px;width:50px;height:24px;padding-top:6px;border-radius:4px 4px 0 0;color:#4a555f;letter-spacing:-0.16px">Logs</div>
<div class="a pn" style="left:0;top:696px;width:1867px;height:379px;border-radius:0 0 0 3px"></div>
<div class="w" style="left:6px;top:702px;width:1859px;height:347px;border-radius:4px"></div>
<div class="hd" style="left:15.2px;top:707px;width:105.5px;letter-spacing:-0.60px">ID</div>
<div class="hd" style="left:120.0px;top:707px;width:132.0px;letter-spacing:-0.14px">Label</div>
<div class="hd" style="left:252.0px;top:707px;width:197.0px;letter-spacing:-0.28px">Entry time (UTC+1)</div>
<div class="hd" style="left:449.0px;top:707px;width:132.0px;letter-spacing:-0.30px">Symbol</div>
<div class="hd" style="left:581.5px;top:707px;width:79.0px;letter-spacing:-0.20px">Quantity</div>
<div class="hd" style="left:660.4px;top:707px;width:78.5px;letter-spacing:-0.40px">Volume</div>
<div class="hd" style="left:738.0px;top:707px;width:92.5px;letter-spacing:-0.21px">Type</div>
<div class="hd" style="left:830.5px;top:707px;width:132.0px;letter-spacing:-0.09px">Entry price</div>
<div class="hd" style="left:962.8px;top:707px;width:105.0px;letter-spacing:-0.31px">Commissions</div>
<div class="hd" style="left:1067.8px;top:707px;width:105.0px;letter-spacing:0.27px">Swap</div>
<div class="hd" style="left:1173.5px;top:707px;width:133.0px;letter-spacing:-0.19px">Closing price</div>
<div class="hd" style="left:1305.2px;top:707px;width:196.0px;letter-spacing:-0.34px">Closing time (UTC+1)</div>
<div class="hd" style="left:1503.1px;top:707px;width:132.5px;letter-spacing:-0.34px">Net</div>
<div class="hd" style="left:1634.3px;top:707px;width:78.5px;letter-spacing:-0.45px">Pips</div>
<div class="hd" style="left:1712.7px;top:707px;width:132.0px;letter-spacing:0.13px">Gross</div>
<div class="sep" style="left:117px;top:706px;height:17px"></div>
<div class="sep" style="left:249px;top:706px;height:17px"></div>
<div class="sep" style="left:446px;top:706px;height:17px"></div>
<div class="sep" style="left:578px;top:706px;height:17px"></div>
<div class="sep" style="left:657px;top:706px;height:17px"></div>
<div class="sep" style="left:736px;top:706px;height:17px"></div>
<div class="sep" style="left:828px;top:706px;height:17px"></div>
<div class="sep" style="left:960px;top:706px;height:17px"></div>
<div class="sep" style="left:1065px;top:706px;height:17px"></div>
<div class="sep" style="left:1170px;top:706px;height:17px"></div>
<div class="sep" style="left:1303px;top:706px;height:17px"></div>
<div class="sep" style="left:1499px;top:706px;height:17px"></div>
<div class="sep" style="left:1632px;top:706px;height:17px"></div>
<div class="sep" style="left:1710px;top:706px;height:17px"></div>
<div class="sep" style="left:1842px;top:706px;height:17px"></div>
<div class="c" style="left:15.2px;top:730px;width:105.5px">13952</div>
<div class="c cap" style="left:124px;top:730px;text-align:left;letter-spacing:-0.46px">XAURUM GRID PRO_Bu...</div>
<div class="c" style="left:252.0px;top:730px;width:197.0px">09/04/2026 03:55</div>
<div class="c" style="left:449.0px;top:730px;width:132.0px;letter-spacing:-0.44px">XAUUSD</div>
<div class="c" style="left:581.5px;top:730px;width:79.0px;letter-spacing:-0.12px">0.01 Lots</div>
<div class="c" style="left:660.4px;top:730px;width:78.5px;letter-spacing:-0.16px">1 Oz</div>
<div class="c" style="left:738.0px;top:730px;width:92.5px;letter-spacing:-0.09px">Buy</div>
<div class="c" style="left:830.5px;top:730px;width:132.0px">4723.54</div>
<div class="c" style="left:962.8px;top:730px;width:105.0px">0.00</div>
<div class="c" style="left:1067.8px;top:730px;width:105.0px">0.00</div>
<div class="c" style="left:1173.5px;top:730px;width:133.0px">4724.28</div>
<div class="c" style="left:1305.2px;top:730px;width:196.0px">09/04/2026 05:54</div>
<div class="c gr" style="left:1503.1px;top:730px;width:132.5px">0.63</div>
<div class="c gr" style="left:1634.3px;top:730px;width:78.5px">74</div>
<div class="c gr" style="left:1712.7px;top:730px;width:132.0px">0.63</div>
<div class="rl" style="top:749px"></div>
<div class="c" style="left:15.2px;top:754px;width:105.5px">13953</div>
<div class="c cap" style="left:124px;top:754px;text-align:left;letter-spacing:-0.46px">XAURUM GRID PRO_Bu...</div>
<div class="c" style="left:252.0px;top:754px;width:197.0px">09/04/2026 03:55</div>
<div class="c" style="left:449.0px;top:754px;width:132.0px;letter-spacing:-0.44px">XAUUSD</div>
<div class="c" style="left:581.5px;top:754px;width:79.0px;letter-spacing:-0.12px">0.01 Lots</div>
<div class="c" style="left:660.4px;top:754px;width:78.5px;letter-spacing:-0.16px">1 Oz</div>
<div class="c" style="left:738.0px;top:754px;width:92.5px;letter-spacing:-0.09px">Buy</div>
<div class="c" style="left:830.5px;top:754px;width:132.0px">4723.54</div>
<div class="c" style="left:962.8px;top:754px;width:105.0px">0.00</div>
<div class="c" style="left:1067.8px;top:754px;width:105.0px">0.00</div>
<div class="c" style="left:1173.5px;top:754px;width:133.0px">4724.28</div>
<div class="c" style="left:1305.2px;top:754px;width:196.0px">09/04/2026 05:54</div>
<div class="c gr" style="left:1503.1px;top:754px;width:132.5px">0.63</div>
<div class="c gr" style="left:1634.3px;top:754px;width:78.5px">74</div>
<div class="c gr" style="left:1712.7px;top:754px;width:132.0px">0.63</div>
<div class="rl" style="top:773px"></div>
<div class="c" style="left:15.2px;top:778px;width:105.5px">13954</div>
<div class="c cap" style="left:124px;top:778px;text-align:left;letter-spacing:-0.46px">XAURUM GRID PRO_Bu...</div>
<div class="c" style="left:252.0px;top:778px;width:197.0px">09/04/2026 03:55</div>
<div class="c" style="left:449.0px;top:778px;width:132.0px;letter-spacing:-0.44px">XAUUSD</div>
<div class="c" style="left:581.5px;top:778px;width:79.0px;letter-spacing:-0.12px">0.01 Lots</div>
<div class="c" style="left:660.4px;top:778px;width:78.5px;letter-spacing:-0.16px">1 Oz</div>
<div class="c" style="left:738.0px;top:778px;width:92.5px;letter-spacing:-0.09px">Buy</div>
<div class="c" style="left:830.5px;top:778px;width:132.0px">4723.54</div>
<div class="c" style="left:962.8px;top:778px;width:105.0px">0.00</div>
<div class="c" style="left:1067.8px;top:778px;width:105.0px">0.00</div>
<div class="c" style="left:1173.5px;top:778px;width:133.0px">4724.28</div>
<div class="c" style="left:1305.2px;top:778px;width:196.0px">09/04/2026 05:54</div>
<div class="c gr" style="left:1503.1px;top:778px;width:132.5px">0.63</div>
<div class="c gr" style="left:1634.3px;top:778px;width:78.5px">74</div>
<div class="c gr" style="left:1712.7px;top:778px;width:132.0px">0.63</div>
<div class="rl" style="top:797px"></div>
<div class="c" style="left:15.2px;top:802px;width:105.5px">13955</div>
<div class="c cap" style="left:124px;top:802px;text-align:left;letter-spacing:-0.46px">XAURUM GRID PRO_Bu...</div>
<div class="c" style="left:252.0px;top:802px;width:197.0px">09/04/2026 03:55</div>
<div class="c" style="left:449.0px;top:802px;width:132.0px;letter-spacing:-0.44px">XAUUSD</div>
<div class="c" style="left:581.5px;top:802px;width:79.0px;letter-spacing:-0.12px">0.01 Lots</div>
<div class="c" style="left:660.4px;top:802px;width:78.5px;letter-spacing:-0.16px">1 Oz</div>
<div class="c" style="left:738.0px;top:802px;width:92.5px;letter-spacing:-0.09px">Buy</div>
<div class="c" style="left:830.5px;top:802px;width:132.0px">4723.54</div>
<div class="c" style="left:962.8px;top:802px;width:105.0px">0.00</div>
<div class="c" style="left:1067.8px;top:802px;width:105.0px">0.00</div>
<div class="c" style="left:1173.5px;top:802px;width:133.0px">4724.28</div>
<div class="c" style="left:1305.2px;top:802px;width:196.0px">09/04/2026 05:54</div>
<div class="c gr" style="left:1503.1px;top:802px;width:132.5px">0.63</div>
<div class="c gr" style="left:1634.3px;top:802px;width:78.5px">74</div>
<div class="c gr" style="left:1712.7px;top:802px;width:132.0px">0.63</div>
<div class="rl" style="top:821px"></div>
<div class="c" style="left:15.2px;top:826px;width:105.5px">13956</div>
<div class="c cap" style="left:124px;top:826px;text-align:left;letter-spacing:-0.46px">XAURUM GRID PRO_Bu...</div>
<div class="c" style="left:252.0px;top:826px;width:197.0px">09/04/2026 03:55</div>
<div class="c" style="left:449.0px;top:826px;width:132.0px;letter-spacing:-0.44px">XAUUSD</div>
<div class="c" style="left:581.5px;top:826px;width:79.0px;letter-spacing:-0.12px">0.01 Lots</div>
<div class="c" style="left:660.4px;top:826px;width:78.5px;letter-spacing:-0.16px">1 Oz</div>
<div class="c" style="left:738.0px;top:826px;width:92.5px;letter-spacing:-0.09px">Buy</div>
<div class="c" style="left:830.5px;top:826px;width:132.0px">4723.54</div>
<div class="c" style="left:962.8px;top:826px;width:105.0px">0.00</div>
<div class="c" style="left:1067.8px;top:826px;width:105.0px">0.00</div>
<div class="c" style="left:1173.5px;top:826px;width:133.0px">4724.28</div>
<div class="c" style="left:1305.2px;top:826px;width:196.0px">09/04/2026 05:54</div>
<div class="c gr" style="left:1503.1px;top:826px;width:132.5px">0.63</div>
<div class="c gr" style="left:1634.3px;top:826px;width:78.5px">74</div>
<div class="c gr" style="left:1712.7px;top:826px;width:132.0px">0.63</div>
<div class="rl" style="top:845px"></div>
<div class="c" style="left:15.2px;top:850px;width:105.5px">13957</div>
<div class="c cap" style="left:124px;top:850px;text-align:left;letter-spacing:-0.46px">XAURUM GRID PRO_Bu...</div>
<div class="c" style="left:252.0px;top:850px;width:197.0px">09/04/2026 03:55</div>
<div class="c" style="left:449.0px;top:850px;width:132.0px;letter-spacing:-0.44px">XAUUSD</div>
<div class="c" style="left:581.5px;top:850px;width:79.0px;letter-spacing:-0.12px">0.01 Lots</div>
<div class="c" style="left:660.4px;top:850px;width:78.5px;letter-spacing:-0.16px">1 Oz</div>
<div class="c" style="left:738.0px;top:850px;width:92.5px;letter-spacing:-0.09px">Buy</div>
<div class="c" style="left:830.5px;top:850px;width:132.0px">4723.54</div>
<div class="c" style="left:962.8px;top:850px;width:105.0px">0.00</div>
<div class="c" style="left:1067.8px;top:850px;width:105.0px">0.00</div>
<div class="c" style="left:1173.5px;top:850px;width:133.0px">4724.28</div>
<div class="c" style="left:1305.2px;top:850px;width:196.0px">09/04/2026 05:54</div>
<div class="c gr" style="left:1503.1px;top:850px;width:132.5px">0.63</div>
<div class="c gr" style="left:1634.3px;top:850px;width:78.5px">74</div>
<div class="c gr" style="left:1712.7px;top:850px;width:132.0px">0.63</div>
<div class="rl" style="top:869px"></div>
<div class="c" style="left:15.2px;top:874px;width:105.5px">13958</div>
<div class="c cap" style="left:124px;top:874px;text-align:left;letter-spacing:-0.46px">XAURUM GRID PRO_Bu...</div>
<div class="c" style="left:252.0px;top:874px;width:197.0px">09/04/2026 03:55</div>
<div class="c" style="left:449.0px;top:874px;width:132.0px;letter-spacing:-0.44px">XAUUSD</div>
<div class="c" style="left:581.5px;top:874px;width:79.0px;letter-spacing:-0.12px">0.01 Lots</div>
<div class="c" style="left:660.4px;top:874px;width:78.5px;letter-spacing:-0.16px">1 Oz</div>
<div class="c" style="left:738.0px;top:874px;width:92.5px;letter-spacing:-0.09px">Buy</div>
<div class="c" style="left:830.5px;top:874px;width:132.0px">4723.54</div>
<div class="c" style="left:962.8px;top:874px;width:105.0px">0.00</div>
<div class="c" style="left:1067.8px;top:874px;width:105.0px">0.00</div>
<div class="c" style="left:1173.5px;top:874px;width:133.0px">4724.28</div>
<div class="c" style="left:1305.2px;top:874px;width:196.0px">09/04/2026 05:54</div>
<div class="c gr" style="left:1503.1px;top:874px;width:132.5px">0.63</div>
<div class="c gr" style="left:1634.3px;top:874px;width:78.5px">74</div>
<div class="c gr" style="left:1712.7px;top:874px;width:132.0px">0.63</div>
<div class="rl" style="top:893px"></div>
<div class="c" style="left:15.2px;top:898px;width:105.5px">13965</div>
<div class="c cap" style="left:124px;top:898px;text-align:left;letter-spacing:-0.46px">XAURUM GRID PRO_Bu...</div>
<div class="c" style="left:252.0px;top:898px;width:197.0px">09/04/2026 06:05</div>
<div class="c" style="left:449.0px;top:898px;width:132.0px;letter-spacing:-0.44px">XAUUSD</div>
<div class="c" style="left:581.5px;top:898px;width:79.0px;letter-spacing:-0.12px">0.01 Lots</div>
<div class="c" style="left:660.4px;top:898px;width:78.5px;letter-spacing:-0.16px">1 Oz</div>
<div class="c" style="left:738.0px;top:898px;width:92.5px;letter-spacing:-0.09px">Buy</div>
<div class="c" style="left:830.5px;top:898px;width:132.0px">4719.80</div>
<div class="c" style="left:962.8px;top:898px;width:105.0px">0.00</div>
<div class="c" style="left:1067.8px;top:898px;width:105.0px">0.00</div>
<div class="c" style="left:1173.5px;top:898px;width:133.0px">4723.85</div>
<div class="c" style="left:1305.2px;top:898px;width:196.0px">09/04/2026 06:22</div>
<div class="c gr" style="left:1503.1px;top:898px;width:132.5px">3.47</div>
<div class="c gr" style="left:1634.3px;top:898px;width:78.5px">405</div>
<div class="c gr" style="left:1712.7px;top:898px;width:132.0px">3.47</div>
<div class="rl" style="top:917px"></div>
<div class="c" style="left:15.2px;top:922px;width:105.5px">13966</div>
<div class="c cap" style="left:124px;top:922px;text-align:left;letter-spacing:-0.46px">XAURUM GRID PRO_Bu...</div>
<div class="c" style="left:252.0px;top:922px;width:197.0px">09/04/2026 06:05</div>
<div class="c" style="left:449.0px;top:922px;width:132.0px;letter-spacing:-0.44px">XAUUSD</div>
<div class="c" style="left:581.5px;top:922px;width:79.0px;letter-spacing:-0.12px">0.01 Lots</div>
<div class="c" style="left:660.4px;top:922px;width:78.5px;letter-spacing:-0.16px">1 Oz</div>
<div class="c" style="left:738.0px;top:922px;width:92.5px;letter-spacing:-0.09px">Buy</div>
<div class="c" style="left:830.5px;top:922px;width:132.0px">4719.80</div>
<div class="c" style="left:962.8px;top:922px;width:105.0px">0.00</div>
<div class="c" style="left:1067.8px;top:922px;width:105.0px">0.00</div>
<div class="c" style="left:1173.5px;top:922px;width:133.0px">4724.43</div>
<div class="c" style="left:1305.2px;top:922px;width:196.0px">09/04/2026 06:27</div>
<div class="c gr" style="left:1503.1px;top:922px;width:132.5px">3.97</div>
<div class="c gr" style="left:1634.3px;top:922px;width:78.5px">463</div>
<div class="c gr" style="left:1712.7px;top:922px;width:132.0px">3.97</div>
<div class="rl" style="top:941px"></div>
<div class="c" style="left:15.2px;top:946px;width:105.5px">13967</div>
<div class="c cap" style="left:124px;top:946px;text-align:left;letter-spacing:-0.46px">XAURUM GRID PRO_Bu...</div>
<div class="c" style="left:252.0px;top:946px;width:197.0px">09/04/2026 06:05</div>
<div class="c" style="left:449.0px;top:946px;width:132.0px;letter-spacing:-0.44px">XAUUSD</div>
<div class="c" style="left:581.5px;top:946px;width:79.0px;letter-spacing:-0.12px">0.01 Lots</div>
<div class="c" style="left:660.4px;top:946px;width:78.5px;letter-spacing:-0.16px">1 Oz</div>
<div class="c" style="left:738.0px;top:946px;width:92.5px;letter-spacing:-0.09px">Buy</div>
<div class="c" style="left:830.5px;top:946px;width:132.0px">4719.80</div>
<div class="c" style="left:962.8px;top:946px;width:105.0px">0.00</div>
<div class="c" style="left:1067.8px;top:946px;width:105.0px">0.00</div>
<div class="c" style="left:1173.5px;top:946px;width:133.0px">4725.13</div>
<div class="c" style="left:1305.2px;top:946px;width:196.0px">09/04/2026 06:29</div>
<div class="c gr" style="left:1503.1px;top:946px;width:132.5px">4.57</div>
<div class="c gr" style="left:1634.3px;top:946px;width:78.5px">533</div>
<div class="c gr" style="left:1712.7px;top:946px;width:132.0px">4.57</div>
<div class="rl" style="top:965px"></div>
<div class="c" style="left:15.2px;top:970px;width:105.5px">13968</div>
<div class="c cap" style="left:124px;top:970px;text-align:left;letter-spacing:-0.46px">XAURUM GRID PRO_Bu...</div>
<div class="c" style="left:252.0px;top:970px;width:197.0px">09/04/2026 06:05</div>
<div class="c" style="left:449.0px;top:970px;width:132.0px;letter-spacing:-0.44px">XAUUSD</div>
<div class="c" style="left:581.5px;top:970px;width:79.0px;letter-spacing:-0.12px">0.01 Lots</div>
<div class="c" style="left:660.4px;top:970px;width:78.5px;letter-spacing:-0.16px">1 Oz</div>
<div class="c" style="left:738.0px;top:970px;width:92.5px;letter-spacing:-0.09px">Buy</div>
<div class="c" style="left:830.5px;top:970px;width:132.0px">4719.80</div>
<div class="c" style="left:962.8px;top:970px;width:105.0px">0.00</div>
<div class="c" style="left:1067.8px;top:970px;width:105.0px">0.00</div>
<div class="c" style="left:1173.5px;top:970px;width:133.0px">4726.50</div>
<div class="c" style="left:1305.2px;top:970px;width:196.0px">09/04/2026 06:30</div>
<div class="c gr" style="left:1503.1px;top:970px;width:132.5px">5.75</div>
<div class="c gr" style="left:1634.3px;top:970px;width:78.5px">670</div>
<div class="c gr" style="left:1712.7px;top:970px;width:132.0px">5.75</div>
<div class="rl" style="top:989px"></div>
<div class="c" style="left:15.2px;top:994px;width:105.5px">13969</div>
<div class="c cap" style="left:124px;top:994px;text-align:left;letter-spacing:-0.46px">XAURUM GRID PRO_Bu...</div>
<div class="c" style="left:252.0px;top:994px;width:197.0px">09/04/2026 06:05</div>
<div class="c" style="left:449.0px;top:994px;width:132.0px;letter-spacing:-0.44px">XAUUSD</div>
<div class="c" style="left:581.5px;top:994px;width:79.0px;letter-spacing:-0.12px">0.01 Lots</div>
<div class="c" style="left:660.4px;top:994px;width:78.5px;letter-spacing:-0.16px">1 Oz</div>
<div class="c" style="left:738.0px;top:994px;width:92.5px;letter-spacing:-0.09px">Buy</div>
<div class="c" style="left:830.5px;top:994px;width:132.0px">4719.80</div>
<div class="c" style="left:962.8px;top:994px;width:105.0px">0.00</div>
<div class="c" style="left:1067.8px;top:994px;width:105.0px">0.00</div>
<div class="c" style="left:1173.5px;top:994px;width:133.0px">4726.50</div>
<div class="c" style="left:1305.2px;top:994px;width:196.0px">09/04/2026 06:30</div>
<div class="c gr" style="left:1503.1px;top:994px;width:132.5px">5.75</div>
<div class="c gr" style="left:1634.3px;top:994px;width:78.5px">670</div>
<div class="c gr" style="left:1712.7px;top:994px;width:132.0px">5.75</div>
<div class="rl" style="top:1013px"></div>
<div class="c" style="left:15.2px;top:1018px;width:105.5px">13970</div>
<div class="c cap" style="left:124px;top:1018px;text-align:left;letter-spacing:-0.46px">XAURUM GRID PRO_Bu...</div>
<div class="c" style="left:252.0px;top:1018px;width:197.0px">09/04/2026 06:05</div>
<div class="c" style="left:449.0px;top:1018px;width:132.0px;letter-spacing:-0.44px">XAUUSD</div>
<div class="c" style="left:581.5px;top:1018px;width:79.0px;letter-spacing:-0.12px">0.01 Lots</div>
<div class="c" style="left:660.4px;top:1018px;width:78.5px;letter-spacing:-0.16px">1 Oz</div>
<div class="c" style="left:738.0px;top:1018px;width:92.5px;letter-spacing:-0.09px">Buy</div>
<div class="c" style="left:830.5px;top:1018px;width:132.0px">4719.80</div>
<div class="c" style="left:962.8px;top:1018px;width:105.0px">0.00</div>
<div class="c" style="left:1067.8px;top:1018px;width:105.0px">0.00</div>
<div class="c" style="left:1173.5px;top:1018px;width:133.0px">4725.95</div>
<div class="c" style="left:1305.2px;top:1018px;width:196.0px">09/04/2026 06:30</div>
<div class="c gr" style="left:1503.1px;top:1018px;width:132.5px">5.27</div>
<div class="c gr" style="left:1634.3px;top:1018px;width:78.5px">615</div>
<div class="c gr" style="left:1712.7px;top:1018px;width:132.0px">5.27</div>
<svg class="ic" style="left:1853px;top:707px" width="7" height="6"><path d="M0 6H7L3.5 0z" fill="#b0bcc4"/></svg>
<div class="a" style="left:1853px;top:1024.5px;width:7px;height:7px;border-radius:50%;background:#b0bcc4"></div>
<svg class="ic" style="left:1853px;top:1037.5px" width="7" height="6"><path d="M0 0H7L3.5 6z" fill="#b0bcc4"/></svg>
<div class="st" style="left:0px;letter-spacing:-0.11px">Balance: <b>€ 2 641.12</b></div>
<div class="st" style="left:264px;letter-spacing:-0.14px">Equity: <b>€ 2 641.12</b></div>
<div class="sep" style="left:263px;top:1050px;height:18px;background:#bcc5cb"></div>
<div class="st" style="left:528px;letter-spacing:-0.20px">Used margin: <b>€ 0.00</b></div>
<div class="sep" style="left:527px;top:1050px;height:18px;background:#bcc5cb"></div>
<div class="st" style="left:792px;letter-spacing:-0.08px">Free margin: <b>€ 2 641.12</b></div>
<div class="sep" style="left:791px;top:1050px;height:18px;background:#bcc5cb"></div>
<div class="st" style="left:1056px;letter-spacing:-0.17px">Margin level: <b>N/A</b></div>
<div class="sep" style="left:1055px;top:1050px;height:18px;background:#bcc5cb"></div>
<div class="st" style="left:1320px;letter-spacing:-0.08px">Unr. Gross: <b>€ 0.00</b></div>
<div class="sep" style="left:1319px;top:1050px;height:18px;background:#bcc5cb"></div>
<div class="st" style="left:1584px;letter-spacing:-0.20px">Unr. Net: <b>€ 0.00</b></div>
<div class="sep" style="left:1583px;top:1050px;height:18px;background:#bcc5cb"></div>
<svg class="ic" style="left:1848px;top:1052px" width="15" height="15" viewBox="-7.5 -7.5 15 15"><g fill="none" stroke="#333" stroke-width="1.7"><circle r="3.6"/><path d="M0-4.2V-6.6M0 4.2V6.6M-4.2 0H-6.6M4.2 0H6.6M-3-3L-4.7-4.7M3 3L4.7 4.7M-3 3L-4.7 4.7M3-3L4.7-4.7" stroke-width="2"/></g></svg>
</body></html>
